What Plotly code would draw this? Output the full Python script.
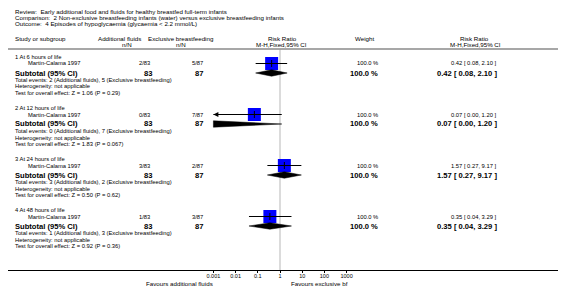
import plotly.graph_objects as go

# ---------------- data ----------------
title_lines = [
    "Review:  Early additional food and fluids for healthy breastfed full-term infants",
    "Comparison:  2 Non-exclusive breastfeeding infants (water) versus exclusive breastfeeding infants",
    "Outcome:  4 Episodes of hypoglycaemia (glycaemia &lt; 2.2 mmol/L)",
]
arm_labels = ["Additional fluids", "Exclusive breastfeeding"]
groups = ["1 At 6 hours of life", "2 At 12 hours of life",
          "3 At 24 hours of life", "4 At 48 hours of life"]
studies = ["Martin-Calama 1997", "Martin-Calama 1997",
           "Martin-Calama 1997", "Martin-Calama 1997"]
add_events = [2, 0, 3, 1]
add_n = [83, 83, 83, 83]
exc_events = [5, 7, 2, 3]
exc_n = [87, 87, 87, 87]
rr = [0.42, 0.07, 1.57, 0.35]
ci_lo = [0.08, 0.00, 0.27, 0.04]
ci_hi = [2.10, 1.20, 9.17, 3.29]
weight = [100.0, 100.0, 100.0, 100.0]
z_vals = ["1.06", "1.83", "0.50", "0.92"]
p_vals = ["0.29", "0.067", "0.62", "0.36"]
tick_vals = [0.001, 0.01, 0.1, 1, 10, 100, 1000]
tick_text = ["0.001", "0.01", "0.1", "1", "10", "100", "1000"]
favours = ["Favours additional fluids", "Favours exclusive bf"]

# ---------------- layout constants (page pixels) ----------------
PAGE_W, PAGE_H = 566, 301
OX, OY = 8, 8                 # default body margin of the html page
W, H = PAGE_W - OX, PAGE_H - 2 * OY
X_ONE = 280.0                 # page pixel of RR = 1
DEC = 22.2                    # pixels per decade
AXIS_Y = 270.0                # page row of the x axis
FONT = "Liberation Sans, Arial, sans-serif"
F_HEAD = 6.2
F_ROW = 5.8
F_TICK = 5.5
F_BOLD = 7.6
AX_MIN = tick_vals[0]

def px(p):
    return (p - OX) / W

def py(p):
    return 1 - (p - OY) / H

fig = go.Figure()
ann = []

def text(x, y, s, size=F_ROW, anchor="left", bold=False, color="#000"):
    ann.append(dict(x=px(x), y=py(y), xref="paper", yref="paper",
                    text=("<b>%s</b>" % s) if bold else s, showarrow=False,
                    xanchor=anchor, yanchor="middle",
                    font=dict(family=FONT, size=size, color=color)))

# title block
for k, line in enumerate(title_lines):
    text(13, 11 + 6.4 * k, line, size=F_HEAD)

# column headers
text(13, 38.5, "Study or subgroup", size=F_HEAD)
text(119, 38.5, arm_labels[0], size=F_HEAD, anchor="center")
text(127, 44.5, "n/N", size=F_HEAD, anchor="center")
text(181, 38.5, arm_labels[1], size=F_HEAD, anchor="center")
text(180.5, 44.5, "n/N", size=F_HEAD, anchor="center")
text(282, 38.5, "Risk Ratio", size=F_HEAD, anchor="center")
text(281, 44.5, "M-H,Fixed,95% CI", size=F_HEAD, anchor="center")
text(353, 38.5, "Weight", size=F_HEAD)
text(474, 38.5, "Risk Ratio", size=F_HEAD, anchor="center")
text(475, 44.5, "M-H,Fixed,95% CI", size=F_HEAD, anchor="center")

shapes = [
    dict(type="line", xref="paper", yref="paper", x0=0, x1=1, y0=py(49), y1=py(49),
         line=dict(color="#8a8a8a", width=1.3)),
    dict(type="line", xref="x", yref="y", x0=1, x1=1, y0=49.5, y1=AXIS_Y,
         line=dict(color="#cfcfcf", width=1.5), layer="below"),
]

for i in range(len(groups)):
    y0 = 57 + 51 * i
    ys = y0 + 6.5
    ysub = y0 + 16
    text(13, y0, groups[i])
    text(26, ys, studies[i])
    text(152, ys, "%d/%d" % (add_events[i], add_n[i]), anchor="right")
    text(205, ys, "%d/%d" % (exc_events[i], exc_n[i]), anchor="right")
    text(380, ys, "%.1f %%" % weight[i], anchor="right")
    text(499, ys, "%.2f [ %.2f, %.2f ]" % (rr[i], ci_lo[i], ci_hi[i]), anchor="right")

    text(13, ysub, "Subtotal (95% CI)", size=F_BOLD, bold=True)
    text(154, ysub, "%d" % add_n[i], size=F_BOLD, bold=True, anchor="right")
    text(205, ysub, "%d" % exc_n[i], size=F_BOLD, bold=True, anchor="right")
    text(380, ysub, "%.1f %%" % weight[i], size=F_BOLD, bold=True, anchor="right")
    text(499, ysub, "%.2f [ %.2f, %.2f ]" % (rr[i], ci_lo[i], ci_hi[i]),
         size=F_BOLD, bold=True, anchor="right")

    text(13, y0 + 23, "Total events: %d (%s), %d (%s)" % (
        add_events[i], arm_labels[0], exc_events[i], arm_labels[1]))
    text(13, y0 + 29.5, "Heterogeneity: not applicable")
    text(13, y0 + 36, "Test for overall effect: Z = %s (P = %s)" % (z_vals[i], p_vals[i]))

    clipped = ci_lo[i] < AX_MIN
    lo = max(ci_lo[i], AX_MIN)
    # study box
    fig.add_trace(go.Scatter(x=[rr[i]], y=[ys], mode="markers",
                             marker=dict(symbol="square", size=13, color="#0000ff",
                                         line=dict(width=0)),
                             hoverinfo="skip", showlegend=False))
    # CI line
    fig.add_trace(go.Scatter(x=[lo, ci_hi[i]], y=[ys, ys], mode="lines",
                             line=dict(color="#000", width=1),
                             hoverinfo="skip", showlegend=False))
    # point estimate tick
    fig.add_trace(go.Scatter(x=[rr[i]], y=[ys], mode="markers",
                             marker=dict(symbol="line-ns", size=5,
                                         line=dict(color="#000", width=1)),
                             hoverinfo="skip", showlegend=False))
    if clipped:
        fig.add_trace(go.Scatter(x=[lo], y=[ys], mode="markers",
                                 marker=dict(symbol="arrow-left", size=5, color="#000"),
                                 hoverinfo="skip", showlegend=False))
    # subtotal diamond
    h = 3.2
    if clipped:
        dx = [lo, ci_hi[i], lo, lo]
        dy = [ysub - h, ysub, ysub + h, ysub - h]
    else:
        dx = [ci_lo[i], rr[i], ci_hi[i], rr[i], ci_lo[i]]
        dy = [ysub, ysub - h, ysub, ysub + h, ysub]
    fig.add_trace(go.Scatter(x=dx, y=dy, mode="lines", fill="toself",
                             fillcolor="#000", line=dict(color="#000", width=0.5),
                             hoverinfo="skip", showlegend=False))

# favours labels
text(179, 283, favours[0], size=F_HEAD, anchor="center")
text(319, 283, favours[1], size=F_HEAD, anchor="center")

fig.update_layout(
    width=W, height=H, margin=dict(l=0, r=0, t=0, b=0),
    paper_bgcolor="white", plot_bgcolor="white",
    annotations=ann, shapes=shapes, showlegend=False,
    xaxis=dict(type="log", range=[(OX - X_ONE) / DEC, (PAGE_W - X_ONE) / DEC],
               domain=[0, 1], tickvals=tick_vals, ticktext=tick_text,
               showline=True, linecolor="#000", linewidth=1,
               ticks="outside", ticklen=2, tickwidth=1, tickcolor="#000",
               ticklabelstandoff=-2,
               tickfont=dict(family=FONT, size=F_TICK, color="#000"),
               showgrid=False, zeroline=False, fixedrange=True),
    yaxis=dict(range=[AXIS_Y, OY], domain=[(H - (AXIS_Y - OY)) / H, 1], visible=False,
               showgrid=False, zeroline=False, fixedrange=True),
)

fig.write_html("out.html")
